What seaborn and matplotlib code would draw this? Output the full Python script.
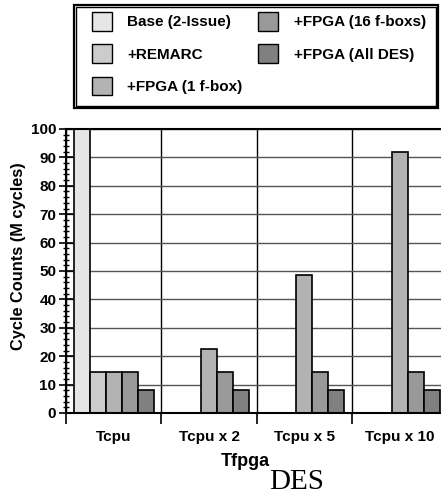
import numpy as np
import pandas as pd
import seaborn as sns
import matplotlib.pyplot as plt
from matplotlib.patches import Patch, Rectangle
from matplotlib.ticker import MultipleLocator, FixedLocator

# Data
categories = ["Tcpu", "Tcpu x 2", "Tcpu x 5", "Tcpu x 10"]
configs = ["Base (2-Issue)", "+REMARC", "+FPGA (1 f-box)", "+FPGA (16 f-boxs)", "+FPGA (All DES)"]
base = [100, np.nan, np.nan, np.nan]
remarc = [14.5, np.nan, np.nan, np.nan]
fpga_1 = [14.5, 22.5, 48.5, 91.8]
fpga_16 = [14.5, 14.5, 14.5, 14.5]
fpga_all = [8.2, 8.2, 8.2, 8.2]
colors = ["#e6e6e6", "#cccccc", "#b3b3b3", "#999999", "#808080"]

rows = []
for name, vals in zip(configs, [base, remarc, fpga_1, fpga_16, fpga_all]):
    for cat, v in zip(categories, vals):
        if not np.isnan(v):
            rows.append({"Tfpga": cat, "config": name, "cycles": v})
df = pd.DataFrame(rows)

sns.set_style("white")
plt.rcParams["font.family"] = ["Liberation Sans", "DejaVu Sans"]
plt.rcParams["text.color"] = "black"
plt.rcParams["xtick.color"] = "black"
plt.rcParams["ytick.color"] = "black"

fig = plt.figure(figsize=(4.41, 4.95), dpi=100)
ax = fig.add_axes([0.1497, 0.1657, 0.8646, 0.5737])

sns.barplot(data=df, x="Tfpga", y="cycles", hue="config", order=categories,
            hue_order=configs, palette=colors, width=0.84, edgecolor="black",
            linewidth=1.2, saturation=1, legend=False, ax=ax)

ax.set_xlim(-0.5, 3.5)
ax.set_ylim(0, 100)
ax.set_axisbelow(True)

# y axis ticks and grid
ax.yaxis.set_major_locator(MultipleLocator(10))
ax.yaxis.set_minor_locator(MultipleLocator(2))
ax.tick_params(axis="y", which="major", direction="inout", length=10, width=1.2,
               labelsize=11, pad=2, left=True, labelcolor="black")
ax.tick_params(axis="y", which="minor", direction="inout", length=5, width=1, left=True)
ax.yaxis.grid(True, which="major", color="#555555", linewidth=1)
for lab in ax.get_yticklabels():
    lab.set_fontweight("bold")

# x axis: labels centred, separators at the boundaries
ax.xaxis.set_minor_locator(FixedLocator([-0.5, 0.5, 1.5, 2.5, 3.5]))
ax.tick_params(axis="x", which="major", length=0, pad=12, labelsize=11, labelcolor="black")
ax.tick_params(axis="x", which="minor", direction="out", length=8, width=1.2, bottom=True)
ax.xaxis.grid(True, which="minor", color="black", linewidth=1)
for lab in ax.get_xticklabels():
    lab.set_fontweight("bold")

ax.set_xlabel("")
ax.set_ylabel("")
for side in ["left", "bottom", "top"]:
    ax.spines[side].set_color("black")
    ax.spines[side].set_linewidth(1.5)
ax.spines["right"].set_visible(False)

fig.text(19 / 441, 1 - 256 / 495, "Cycle Counts (M cycles)", rotation=90,
         ha="center", va="center", fontsize=11.8, fontweight="bold")
fig.text(245 / 441, 1 - 462 / 495, "Tfpga", ha="center", va="center",
         fontsize=13, fontweight="bold")
fig.text(297 / 441, 1 - 482 / 495, "DES", ha="center", va="center",
         fontsize=21, family=["Liberation Serif", "DejaVu Serif"])

handles = [Patch(facecolor=c, edgecolor="black", linewidth=1) for c in colors]
leg = fig.legend(handles, configs, ncol=2, loc="upper left",
                 bbox_to_anchor=(92 / 441, 1 - 12 / 495),
                 prop={"weight": "bold", "size": 11},
                 frameon=False, handlelength=1.3, handleheight=1.5,
                 handletextpad=1.0, labelspacing=0.9, columnspacing=1.05,
                 borderpad=0, borderaxespad=0)

# double-line legend frame
W, H = 441, 495
fig.patches.append(Rectangle((76 / W, 1 - 106 / H), 360 / W, 99 / H,
                             transform=fig.transFigure, fill=False,
                             edgecolor="black", linewidth=1))
fig.patches.append(Rectangle((74 / W, 1 - 108 / H), 364 / W, 103 / H,
                             transform=fig.transFigure, fill=False,
                             edgecolor="black", linewidth=1.6))

plt.savefig("out.png", dpi=100)
